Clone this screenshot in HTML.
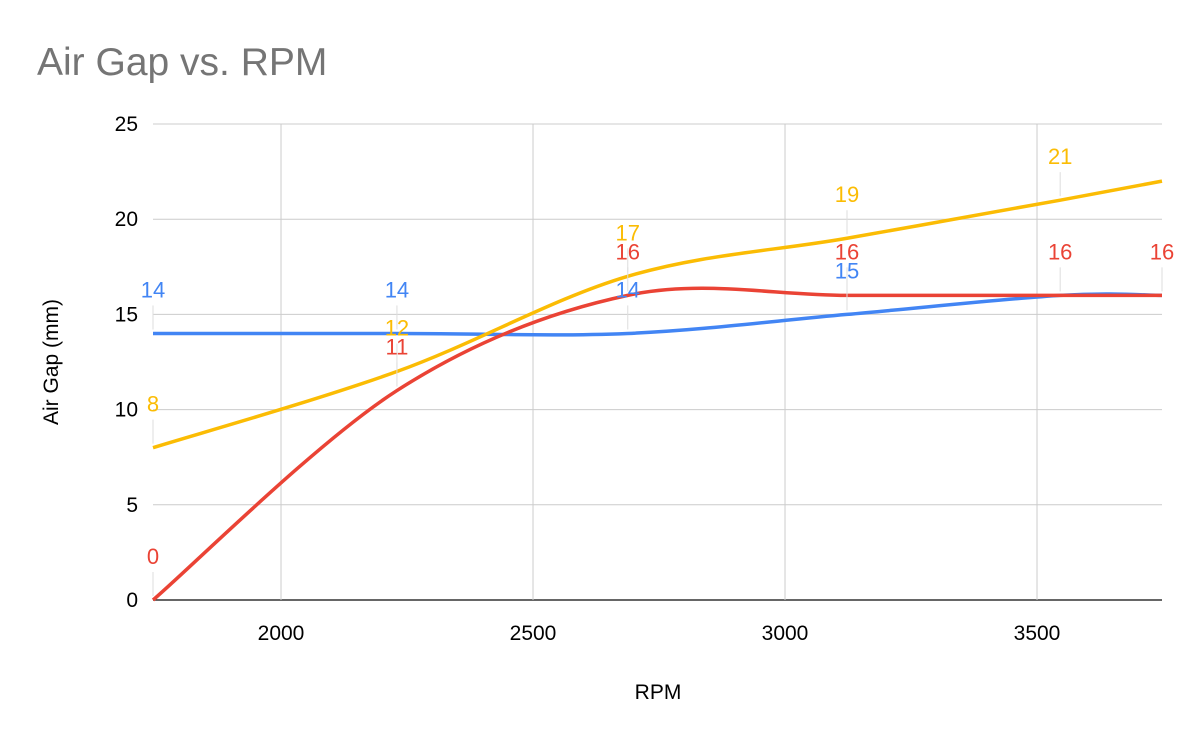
<!DOCTYPE html>
<html><head><meta charset="utf-8"><style>
body{margin:0;background:#fff;font-family:"Liberation Sans",Arial,sans-serif}
</style></head><body>
<svg id="chart" width="1200" height="742" xmlns="http://www.w3.org/2000/svg" style="display:block">
<rect width="1200" height="742" fill="#fff"/>
<text x="37" y="75" font-size="39" fill="#757575" font-family="Liberation Sans, Arial, sans-serif">Air Gap vs. RPM</text>
<g id="grid"></g><g id="series"></g><g id="labels"></g>
<text x="658" y="699" font-size="21" text-anchor="middle" fill="#000">RPM</text>
<text transform="translate(58,362) rotate(-90)" font-size="21" text-anchor="middle" fill="#000">Air Gap (mm)</text>
</svg>
<script>
const rpm = [1746, 2230, 2688, 3123, 3546, 3748];
const blueVals = [14, 14, 14, 15, 16, 16];
const redVals = [0, 11, 16, 16, 16, 16];
const yellowVals = [8, 12, 17, 19, 21, 22];
const blueLabels = ["14", "14", "14", "15", null, null];
const redLabels = ["0", "11", "16", "16", "16", "16"];
const yellowLabels = ["8", "12", "17", "19", "21", null];
const xTicks = [2000, 2500, 3000, 3500];
const yTicks = [0, 5, 10, 15, 20, 25];

const NS = "http://www.w3.org/2000/svg";
const X0 = 153, X1 = 1162, Y0 = 600, Y1 = 124;
const xMin = 1746, xMax = 3748, yMin = 0, yMax = 25;
const sx = v => X0 + (v - xMin) / (xMax - xMin) * (X1 - X0);
const sy = v => Y0 - (v - yMin) / (yMax - yMin) * (Y0 - Y1);
function el(tag, attrs, parent) {
  const e = document.createElementNS(NS, tag);
  for (const k in attrs) e.setAttribute(k, attrs[k]);
  parent.appendChild(e); return e;
}
const grid = document.getElementById('grid');
yTicks.forEach(t => {
  const g = el('line', {x1: X0, x2: X1, y1: sy(t), y2: sy(t), stroke: t === 0 ? '#333' : '#ccc', 'stroke-width': t === 0 ? 1.5 : 1}, grid);
  
  
  const tx = el('text', {x: 138, y: sy(t) + 7, 'font-size': 21, 'text-anchor': 'end', fill: '#000'}, grid);
  tx.textContent = t;
  
  
});
xTicks.forEach(t => {
  const g = el('line', {x1: sx(t), x2: sx(t), y1: Y1, y2: Y0, stroke: '#ccc', 'stroke-width': 1}, grid);
  
  
  const tx = el('text', {x: sx(t), y: 640, 'font-size': 21, 'text-anchor': 'middle', fill: '#000'}, grid);
  tx.textContent = t;
  
  
});
function pathFor(vals) {
  const p = rpm.map((r, i) => [sx(r), sy(vals[i])]);
  let d = `M${p[0][0]},${p[0][1]}`;
  for (let i = 0; i < p.length - 1; i++) {
    const a = p[Math.max(0, i - 1)], b = p[i], c = p[i + 1], e = p[Math.min(p.length - 1, i + 2)];
    const t = 0.5 / 3;
    const c1 = [b[0] + (c[0] - a[0]) * t, b[1] + (c[1] - a[1]) * t];
    const c2 = [c[0] - (e[0] - b[0]) * t, c[1] - (e[1] - b[1]) * t];
    d += ` C${c1[0]},${c1[1]} ${c2[0]},${c2[1]} ${c[0]},${c[1]}`;
  }
  return d;
}
const series = document.getElementById('series'), labels = document.getElementById('labels');
[["blue", blueVals, blueLabels, "#4285f4"], ["yellow", yellowVals, yellowLabels, "#fbbc04"], ["red", redVals, redLabels, "#ea4335"]].forEach(([n, vals, labs, col]) => {
  const p = el('path', {d: pathFor(vals), fill: 'none', stroke: col, 'stroke-width': 3.5, 'stroke-linejoin': 'round'}, series);
  
  
  rpm.forEach((r, i) => {
    if (labs[i] === null) return;
    const x = sx(r), y = sy(vals[i]);
    const ln = el('line', {x1: x, x2: x, y1: y - 4, y2: y - 28, stroke: '#ddd', 'stroke-width': 1}, labels);
    
    
    const t = el('text', {x: x, y: y - 36, 'font-size': 22, 'text-anchor': 'middle', fill: col}, labels);
    t.textContent = labs[i];
    
    
  });
});
</script>
</body></html>
